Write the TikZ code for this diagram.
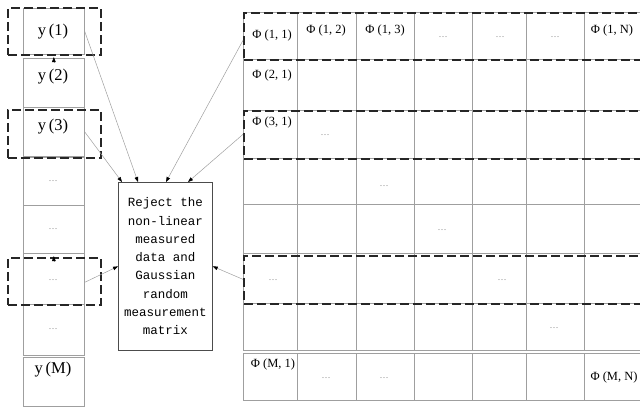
\documentclass[tikz,border=0pt]{standalone}
\usepackage{fontspec}
\setmainfont{Liberation Serif}
\newfontfamily\boxmono{Liberation Mono}
\usetikzlibrary{arrows.meta}

\tikzset{
  cell/.style={draw=gray!75, line width=0.7pt, inner sep=0pt, anchor=north west},
  dbox/.style={draw=black!85, line width=1.8pt, dash pattern=on 9pt off 4pt,
               inner sep=0pt, anchor=north west},
  ylab/.style={font=\fontsize{16.5}{18}\selectfont, inner sep=0pt},
  plab/.style={font=\fontsize{12.5}{14}\selectfont, inner sep=0pt},
  dots/.style={font=\fontsize{9}{10}\selectfont, text=gray, inner sep=0pt},
  link/.style={draw=gray!75, line width=0.5pt,
               -{Triangle[length=5pt,width=3.6pt,black]}},
  core/.style={draw=gray!60!black, line width=0.7pt, inner sep=0pt,
               anchor=north west, align=center,
               font=\boxmono\fontsize{12.5}{18.3}\selectfont}
}

\begin{document}
\begin{tikzpicture}[x=1pt,y=-1pt]
\useasboundingbox (0,0) rectangle (640,407);
\clip (0,0) rectangle (640,407);

% measurement vector y
\foreach \i/\ya/\yb in {1/8/54, 2/58/107, 3/107/156, 4/157/205,
                        5/205/253, 6/253/304, 7/304/355, 8/357/406}
  \node[cell, minimum width=61pt, minimum height={\yb-\ya}] (L\i) at (23,\ya) {};

\node[ylab] (y1) at (53,32)  {y\,(1)};
\node[ylab] (y2) at (53,77)  {y\,(2)};
\node[ylab] (y3) at (53,127) {y\,(3)};
\node[dots] (y4) at (53,181) {…};
\node[dots] (y5) at (53,229) {…};
\node[dots] (y6) at (53,280) {…};
\node[dots] (y7) at (53,329) {…};
\node[ylab] (yM) at (53,370) {y\,(M)};

% measurement matrix Phi
\foreach \r/\ya/\yb in {1/12/59, 2/59/110, 3/110/158, 4/158/204,
                        5/204/253, 6/253/303, 7/303/350, 8/353/400}
  \foreach \c/\xa/\xb in {1/243/297, 2/297/356, 3/356/414, 4/414/472,
                          5/472/526, 6/526/584, 7/584/660}
    \node[cell, minimum width={\xb-\xa}, minimum height={\yb-\ya}] (M\r-\c) at (\xa,\ya) {};

\node[plab] (p11) at (272,35)  {Φ (1, 1)};
\node[plab] (p12) at (326,30)  {Φ (1, 2)};
\node[plab] (p13) at (385,30)  {Φ (1, 3)};
\node[dots] (d14) at (443,37)  {…};
\node[dots] (d15) at (500,37)  {…};
\node[dots] (d16) at (555,37)  {…};
\node[plab] (p1N) at (612,30)  {Φ (1, N)};
\node[plab] (p21) at (272,75)  {Φ (2, 1)};
\node[plab] (p31) at (272,122) {Φ (3, 1)};
\node[dots] (d32) at (325,135) {…};
\node[dots] (d43) at (384,186) {…};
\node[dots] (d54) at (442,230) {…};
\node[dots] (d61) at (273,280) {…};
\node[dots] (d65) at (502,280) {…};
\node[dots] (d76) at (554,328) {…};
\node[plab] (pM1) at (273,364) {Φ (M, 1)};
\node[dots] (d82) at (326,378) {…};
\node[dots] (d83) at (384,378) {…};
\node[plab] (pMN) at (614,377) {Φ (M, N)};

% selected rows
\node[dbox, minimum width=93pt, minimum height=47pt] (S1) at (7,7) {};
\node[dbox, minimum width=93pt, minimum height=48pt] (S2) at (7,109) {};
\node[dbox, minimum width=93pt, minimum height=47pt] (S3) at (7,257) {};
\node[dbox, minimum width=420pt, minimum height=47pt] (R1) at (243,12) {};
\node[dbox, minimum width=420pt, minimum height=48pt] (R3) at (243,110) {};
\node[dbox, minimum width=420pt, minimum height=48pt] (R6) at (243,255) {};

% rejection step
\node[core, minimum width=94pt, minimum height=168pt] (C) at (118,182)
  {Reject the\\non-linear\\measured\\data and\\Gaussian\\random\\measurement\\matrix};

\draw[link] (L1.east) -- ([xshift=20pt]C.north west);
\draw[link] (L3.east) -- ([xshift=4pt]C.north west);
\draw[link] ([yshift=-4.5pt]M1-1.west) -- ([xshift=48pt]C.north west);
\draw[link] (M3-1.west) -- ([xshift=70pt]C.north west);
\draw[link] ([yshift=-3.5pt]L6.east) -- (C.west);
\draw[link] ([yshift=-1pt]M6-1.west) -- (C.east);

% small marks on the vector
\draw[link] ([yshift=-5pt]L2.north) -- ([yshift=1pt]L2.north);
\draw[link] ([yshift=-8pt]L6.north) -- ([yshift=-3pt]L6.north);
\end{tikzpicture}
\end{document}
